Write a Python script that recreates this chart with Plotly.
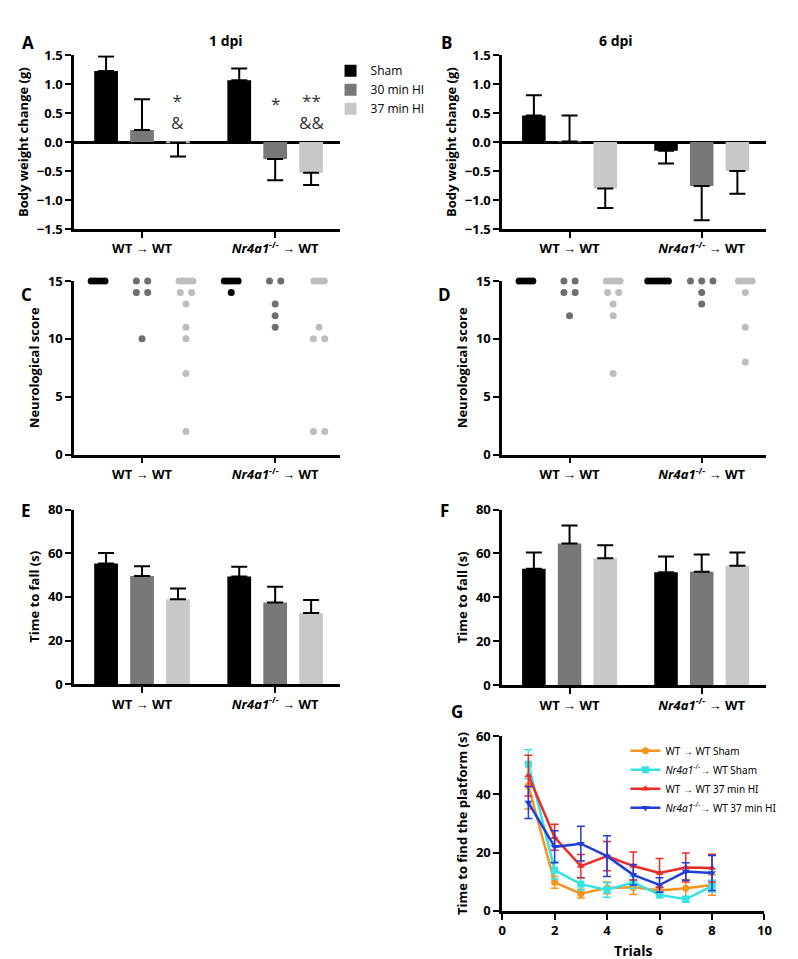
import plotly.graph_objects as go

W, H = 798, 959

groups = [0, 1]
group_ticktext = ["<b>WT → WT</b>", "<b><i>Nr4a1</i><sup>-/-</sup> → WT</b>"]
conditions = ["Sham", "30 min HI", "37 min HI"]
bar_colors = ["#000000", "#787878", "#c8c8c8"]
dot_colors = ["#000000", "#6e6e6e", "#bdbdbd"]

# A - body weight change, 1 dpi  [WT->WT, Nr4a1->WT]
bw1_mean = {"Sham": [1.23, 1.07], "30 min HI": [0.21, -0.29], "37 min HI": [-0.01, -0.53]}
bw1_err = {"Sham": [0.25, 0.20], "30 min HI": [0.53, 0.37], "37 min HI": [0.24, 0.21]}
# B - body weight change, 6 dpi
bw6_mean = {"Sham": [0.46, -0.15], "30 min HI": [0.01, -0.76], "37 min HI": [-0.80, -0.50]}
bw6_err = {"Sham": [0.35, 0.22], "30 min HI": [0.45, 0.59], "37 min HI": [0.34, 0.39]}

# C - neurological score, 1 dpi
ns1 = {
    ("WT", "Sham"): [15, 15, 15, 15, 15],
    ("WT", "30 min HI"): [15, 15, 14, 14, 10],
    ("WT", "37 min HI"): [15, 15, 15, 15, 15, 14, 14, 13, 11, 10, 7, 2],
    ("Nr", "Sham"): [15, 15, 15, 15, 15, 14],
    ("Nr", "30 min HI"): [15, 15, 13, 12, 11],
    ("Nr", "37 min HI"): [15, 15, 15, 15, 11, 10, 10, 2, 2],
}
# D - neurological score, 6 dpi
ns6 = {
    ("WT", "Sham"): [15, 15, 15, 15, 15],
    ("WT", "30 min HI"): [15, 15, 14, 14, 12],
    ("WT", "37 min HI"): [15, 15, 15, 15, 15, 14, 14, 13, 12, 7],
    ("Nr", "Sham"): [15, 15, 15, 15, 15, 15, 15],
    ("Nr", "30 min HI"): [15, 15, 15, 14, 13],
    ("Nr", "37 min HI"): [15, 15, 15, 15, 15, 14, 11, 8],
}

# E - time to fall, 1 dpi
tf1_mean = {"Sham": [55.3, 49.3], "30 min HI": [49.6, 37.4], "37 min HI": [38.9, 32.6]}
tf1_err = {"Sham": [4.8, 4.5], "30 min HI": [4.5, 7.3], "37 min HI": [5.0, 6.0]}
# F - time to fall, 6 dpi
tf6_mean = {"Sham": [53.1, 51.4], "30 min HI": [64.6, 51.7], "37 min HI": [57.8, 54.4]}
tf6_err = {"Sham": [7.3, 7.2], "30 min HI": [8.2, 7.8], "37 min HI": [6.0, 6.0]}

# G - water maze
trials = [1, 2, 3, 4, 5, 6, 7, 8]
mwm_names = ["WT → WT Sham", "<i>Nr4a1</i><sup>-/-</sup>→ WT Sham",
             "WT → WT 37 min HI", "<i>Nr4a1</i><sup>-/-</sup>→ WT 37 min HI"]
mwm_wt_sham = [43.0, 9.8, 5.9, 7.9, 8.1, 7.0, 7.8, 8.9]
mwm_wt_sham_err = [8.0, 2.0, 1.5, 2.0, 2.5, 1.5, 3.0, 3.5]
mwm_nr_sham = [50.4, 14.0, 9.2, 7.2, 9.8, 5.5, 4.0, 8.5]
mwm_nr_sham_err = [5.0, 3.0, 2.0, 2.5, 2.0, 1.0, 1.0, 2.0]
mwm_wt_hi = [46.5, 25.3, 15.4, 18.8, 15.4, 13.0, 14.9, 14.7]
mwm_wt_hi_err = [7.0, 4.5, 4.0, 5.0, 4.8, 5.0, 5.0, 4.8]
mwm_nr_hi = [37.2, 22.0, 23.1, 18.8, 12.4, 8.9, 13.5, 13.0]
mwm_nr_hi_err = [5.5, 5.5, 6.0, 7.0, 3.5, 2.5, 3.0, 6.0]

FONT = "Open Sans"


def px_x(p):
    return p / W


def px_y(p):
    return 1 - p / H


fig = go.Figure()


def add_bars(mean, err, ax, show):
    for c, col in zip(conditions, bar_colors):
        up = [e if m >= 0 else 0 for m, e in zip(mean[c], err[c])]
        down = [e if m < 0 else 0 for m, e in zip(mean[c], err[c])]
        fig.add_trace(go.Bar(
            x=groups, y=mean[c], name=c, marker_color=col, marker_line_width=0,
            offsetgroup=c, xaxis="x" + ax, yaxis="y" + ax,
            showlegend=show, legend="legend",
            error_y=dict(type="data", symmetric=False, array=up, arrayminus=down,
                         color="black", thickness=2, width=8),
        ))


def spread(values, center):
    xs, ys = [], []
    for v in sorted(set(values), reverse=True):
        n = values.count(v)
        step = 0.085 if n <= 3 else 0.026
        for i in range(n):
            xs.append(center + (i - (n - 1) / 2) * step)
            ys.append(v)
    return xs, ys


col_off = [-0.33, 0.0, 0.33]


def add_dots(data, ax):
    for gi, g in enumerate(["WT", "Nr"]):
        for ci, c in enumerate(conditions):
            xs, ys = spread(data[(g, c)], gi + col_off[ci])
            fig.add_trace(go.Scatter(
                x=xs, y=ys, mode="markers", showlegend=False, cliponaxis=False,
                marker=dict(color=dot_colors[ci], size=7),
                xaxis="x" + ax, yaxis="y" + ax,
            ))


add_bars(bw1_mean, bw1_err, "", True)
add_bars(bw6_mean, bw6_err, "2", False)
add_dots(ns1, "3")
add_dots(ns6, "4")
add_bars(tf1_mean, tf1_err, "5", False)
add_bars(tf6_mean, tf6_err, "6", False)

mwm = [(mwm_wt_sham, mwm_wt_sham_err, "#f7941d", "circle"),
       (mwm_nr_sham, mwm_nr_sham_err, "#33e3e6", "square"),
       (mwm_wt_hi, mwm_wt_hi_err, "#ee2a24", "triangle-up"),
       (mwm_nr_hi, mwm_nr_hi_err, "#1f3fd6", "triangle-down")]
for name, (vals, errs, col, sym) in zip(mwm_names, mwm):
    fig.add_trace(go.Scatter(
        x=trials, y=vals, name=name, mode="lines+markers",
        line=dict(color=col, width=2.5), marker=dict(color=col, size=7, symbol=sym),
        error_y=dict(type="data", array=errs, color=col, thickness=1.5, width=4),
        xaxis="x7", yaxis="y7", legend="legend2", cliponaxis=False,
    ))

# axes
boxes = {
    "": (63, 333, 39, 216),
    "2": (497, 765, 39, 216),
    "3": (63, 333, 269, 446),
    "4": (497, 765, 269, 446),
    "5": (63, 333, 502, 680),
    "6": (497, 765, 502, 681),
    "7": (497, 763, 733, 911),
}
ytitles = {"": "Body weight change (g)", "2": "Body weight change (g)",
           "3": "Neurological score", "4": "Neurological score",
           "5": "Time to fall (s)", "6": "Time to fall (s)",
           "7": "Time to find the platform (s)"}
yranges = {"": [-1.5, 1.5], "2": [-1.5, 1.5], "3": [0, 15], "4": [0, 15],
           "5": [0, 80], "6": [0, 80], "7": [0, 60]}
ydticks = {"": 0.5, "2": 0.5, "3": 5, "4": 5, "5": 20, "6": 20, "7": 20}

axis_common = dict(showline=True, linecolor="black", linewidth=2.5, ticks="outside",
                   ticklen=6, tickwidth=2, tickcolor="black", showgrid=False,
                   tickfont=dict(family=FONT, size=13, color="black", weight="bold"))

layout = {}
for ax, (x0, x1, y0, y1) in boxes.items():
    xa = dict(axis_common, domain=[px_x(x0), px_x(x1)], anchor="y" + ax, zeroline=False)
    if ax == "7":
        xa.update(range=[0, 10], dtick=2, title=dict(text="Trials", standoff=8,
                  font=dict(family=FONT, size=14, color="black", weight="bold")))
    else:
        xa.update(range=[-0.51, 1.49], tickvals=groups, ticktext=group_ticktext)
    ya = dict(axis_common, domain=[px_y(y1), px_y(y0)], anchor="x" + ax,
              range=yranges[ax], dtick=ydticks[ax],
              zeroline=ax in ("", "2"), zerolinecolor="black", zerolinewidth=2.5,
              title=dict(text=ytitles[ax], standoff=6,
                         font=dict(family=FONT, size=13, color="black", weight="bold")))
    if ax in ("", "2"):
        ya["tickformat"] = ".1f"
    layout["xaxis" + ax] = xa
    layout["yaxis" + ax] = ya

annos = []
for txt, x, y in [("A", 8, 12), ("B", 441, 12), ("C", 7, 269), ("D", 439, 269),
                  ("E", 7, 503), ("F", 439, 503), ("G", 451, 722)]:
    annos.append(dict(text=txt, x=px_x(x), y=px_y(y), xref="paper", yref="paper",
                      showarrow=False, font=dict(family=FONT, size=17, color="black", weight="bold")))
for txt, x, y in [("1 dpi", 198, 12), ("6 dpi", 632, 12)]:
    annos.append(dict(text=txt, x=px_x(x), y=px_y(y), xref="paper", yref="paper",
                      showarrow=False, font=dict(family=FONT, size=14, color="black", weight="bold")))
# significance marks
for txt, xv, yv in [("*<br>&", 0.27, 0.52), ("*", 1.0, 0.67), ("**<br>&&", 1.27, 0.52)]:
    annos.append(dict(text=txt, x=xv, y=yv, xref="x", yref="y", showarrow=False,
                      font=dict(family=FONT, size=17, color="#333333")))

fig.update_layout(
    width=W, height=H, margin=dict(l=0, r=0, t=0, b=0),
    paper_bgcolor="white", plot_bgcolor="white",
    barmode="group", bargap=0.19, bargroupgap=0.34,
    font=dict(family=FONT, color="black"),
    annotations=annos,
    legend=dict(x=px_x(323), y=px_y(40), xanchor="left", yanchor="top",
                bgcolor="rgba(0,0,0,0)", font=dict(size=12), tracegroupgap=0),
    legend2=dict(x=px_x(622), y=px_y(733), xanchor="left", yanchor="top",
                 bgcolor="rgba(0,0,0,0)", font=dict(size=10, family="Noto Sans"),
                 tracegroupgap=0, itemwidth=30),
    **layout,
)

fig.write_html("out.html")
